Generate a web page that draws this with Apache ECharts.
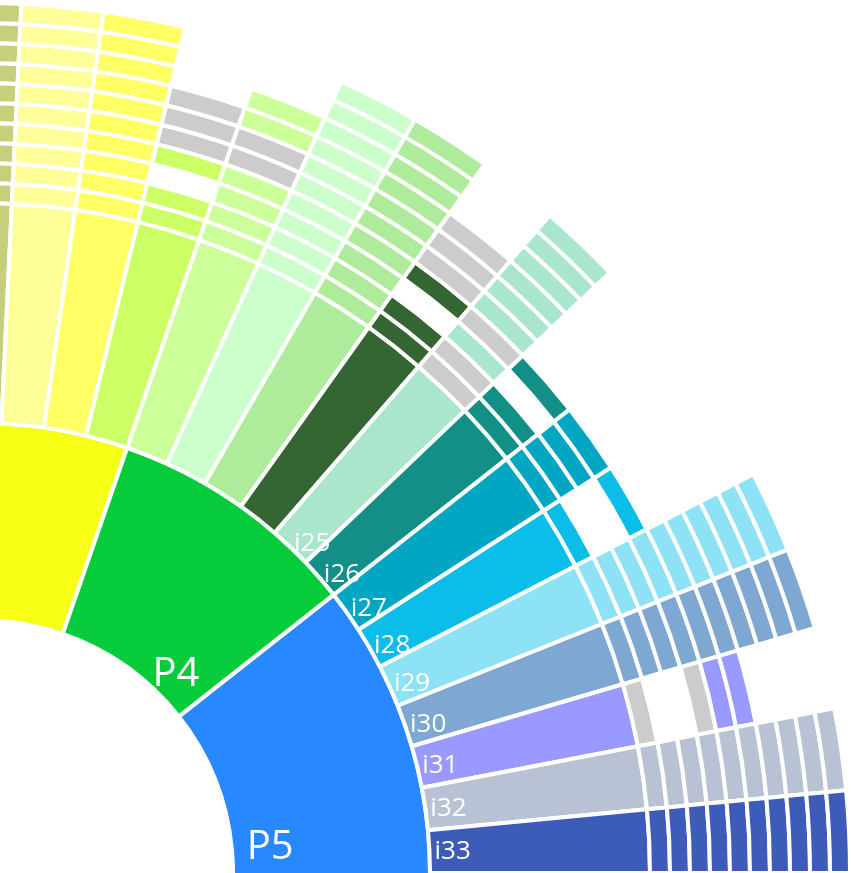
<!DOCTYPE html>
<html><head><meta charset="utf-8">
<script src="https://cdn.jsdelivr.net/npm/echarts@6/dist/echarts.min.js"></script>
<style>html,body{margin:0;padding:0;background:#fff;overflow:hidden}#c{width:851px;height:873px}</style>
</head><body><div id="c"></div>
<script>
// ---- data ----
const pNames = ['P3', 'P4', 'P5'];
const pColors = ['#f6ff14', '#06cc3c', '#2888ff'];
// children of each P that lie outside the visible crop (counts of unit items)
const pHiddenBefore = [7, 0, 0];
const pHiddenAfter = [0, 0, 5];
const restOfCircle = 37;   // remaining (off-canvas) part of the circle

const itemNames = ['i17','i18','i19','i20','i21','i22','i23','i24','i25','i26','i27','i28','i29','i30','i31','i32','i33'];
const itemParent = ['P3','P3','P3','P3','P4','P4','P4','P4','P4','P4','P5','P5','P5','P5','P5','P5','P5'];
const itemColors = ['#c6d07c','#ffff99','#ffff66','#ccff66','#ccff99','#ccffcc','#aeeb9a','#336633','#aae6cc','#128f87','#00a6c2','#0bbde9','#8ee2f6','#7ea8d1','#9999ff','#b9c2d5','#3d5cb9'];
const itemValues = [1,1,1,1,1,1,1,1,1,1,1,1,1,1,1,1,1];
// outer thin rings per item, inner->outer: c = own colour, g = grey, - = empty
const itemBands = ['cccccccccc','cccccccccc','cccccccccc','cc-cggg','ccccggcc','cccccccccc','cccccccccc','cc-cggg','ggcgcccccc','cc-c','cccc','c--c','cccccccccc','cccccccccc','g--gcc','cccccccccc','cccccccccc'];
const labelledItems = ['i25','i26','i27','i28','i29','i30','i31','i32','i33'];
const greyColor = '#cccccc';

// ---- build tree ----
const CLEAR = 'rgba(0,0,0,0)';
function chain(pattern, color, value) {
  let node = null;
  for (let k = pattern.length - 1; k >= 0; k--) {
    const ch = pattern[k];
    const n = { name: '', value: value,
      itemStyle: { color: ch === 'c' ? color : (ch === 'g' ? greyColor : CLEAR) } };
    if (node) n.children = [node];
    node = n;
  }
  return node ? [node] : undefined;
}
function hidden(v) {
  return { name: '', value: v, itemStyle: { color: CLEAR, borderWidth: 0 }, label: { show: false } };
}
const data = pNames.map(function (p, pi) {
  const children = [];
  if (pHiddenBefore[pi]) children.push(hidden(pHiddenBefore[pi]));
  itemNames.forEach(function (nm, i) {
    if (itemParent[i] !== p) return;
    children.push({
      name: nm, value: itemValues[i],
      itemStyle: { color: itemColors[i] },
      label: { show: labelledItems.indexOf(nm) >= 0 },
      children: chain(itemBands[i], itemColors[i], itemValues[i])
    });
  });
  if (pHiddenAfter[pi]) children.push(hidden(pHiddenAfter[pi]));
  const node = { name: p, itemStyle: { color: pColors[pi] }, children: children,
    label: { show: p !== 'P3' } };
  if (p === 'P4') { node.label.padding = [0, 0, 0, 17]; node.label.verticalAlign = 'top'; }
  return node;
});
data.push(hidden(restOfCircle));

const levels = [{},
  { r0: 253, r: 450, label: { show: true, fontSize: 40, align: 'left', distance: 15, rotate: 0, color: '#fff', fontFamily: 'Open Sans' } },
  { r0: 450, r: 670, label: { fontSize: 26, align: 'left', distance: 5, rotate: 0, color: '#fff', fontFamily: 'Open Sans' } }
];
for (let k = 0; k < 10; k++) levels.push({ r0: 670 + 20 * k, r: 690 + 20 * k, label: { show: false } });

const chart = echarts.init(document.getElementById('c'), null, { renderer: 'canvas' });
chart.setOption({
  animation: false,
  series: [{
    type: 'sunburst',
    center: [-20, 873],
    radius: [0, 900],
    startAngle: 130.909,
    clockwise: true,
    sort: null,
    nodeClick: false,
    emphasis: { focus: 'none' },
    itemStyle: { borderColor: '#ffffff', borderWidth: 4 },
    label: { show: false, color: '#fff', rotate: 0 },
    levels: levels,
    data: data
  }]
});
</script></body></html>
